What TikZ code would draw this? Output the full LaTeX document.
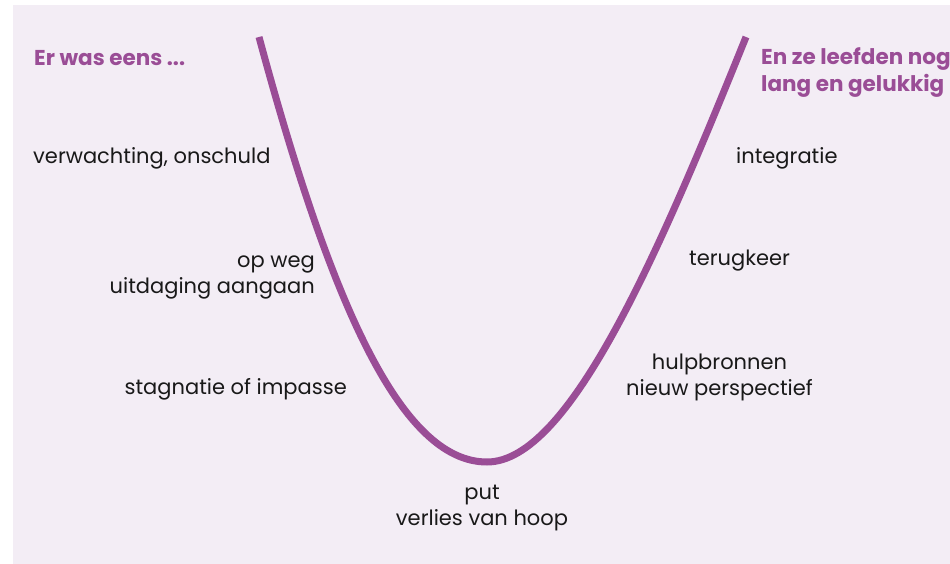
\documentclass[tikz,border=0pt]{standalone}
\usepackage{fontspec}
\setmainfont{Poppins}
\usepackage{tikz}
\definecolor{bgcol}{HTML}{F3EDF5}
\definecolor{ucol}{HTML}{9A4D96}

\begin{document}
\begin{tikzpicture}[x=1pt,y=-1pt,
  lbl/.style={font=\fontsize{21}{26}\selectfont,text=black!90,inner sep=0pt},
  ttl/.style={lbl,font=\fontsize{21.5}{27}\selectfont\bfseries,text=ucol,align=left}]
\useasboundingbox (0,0) rectangle (950,564);
\fill[bgcol] (13,5) rectangle (950,564);
\draw[ucol,line width=7pt] (259,37) .. controls (330,300) and (400,462) .. (487,462)
  .. controls (570,462) and (660,250) .. (746,37);
\node[ttl,anchor=west] (begin) at (34,58) {Er was eens ...};
\node[ttl,anchor=west] (end) at (761,73) {En ze leefden nog\\lang en gelukkig};
\node[lbl,anchor=west] (innocence) at (33,158) {verwachting, onschuld};
\node[lbl,anchor=east,align=right] (road) at (315,277) {op weg\\uitdaging aangaan};
\node[lbl,anchor=east] (stuck) at (347,389) {stagnatie of impasse};
\node[lbl,align=center] (pit) at (482,508) {put\\verlies van hoop};
\node[lbl,anchor=west,align=center] (help) at (626,377) {hulpbronnen\\nieuw perspectief};
\node[lbl,anchor=west] (back) at (689,261) {terugkeer};
\node[lbl,anchor=west] (whole) at (736,158) {integratie};
\end{tikzpicture}
\end{document}
